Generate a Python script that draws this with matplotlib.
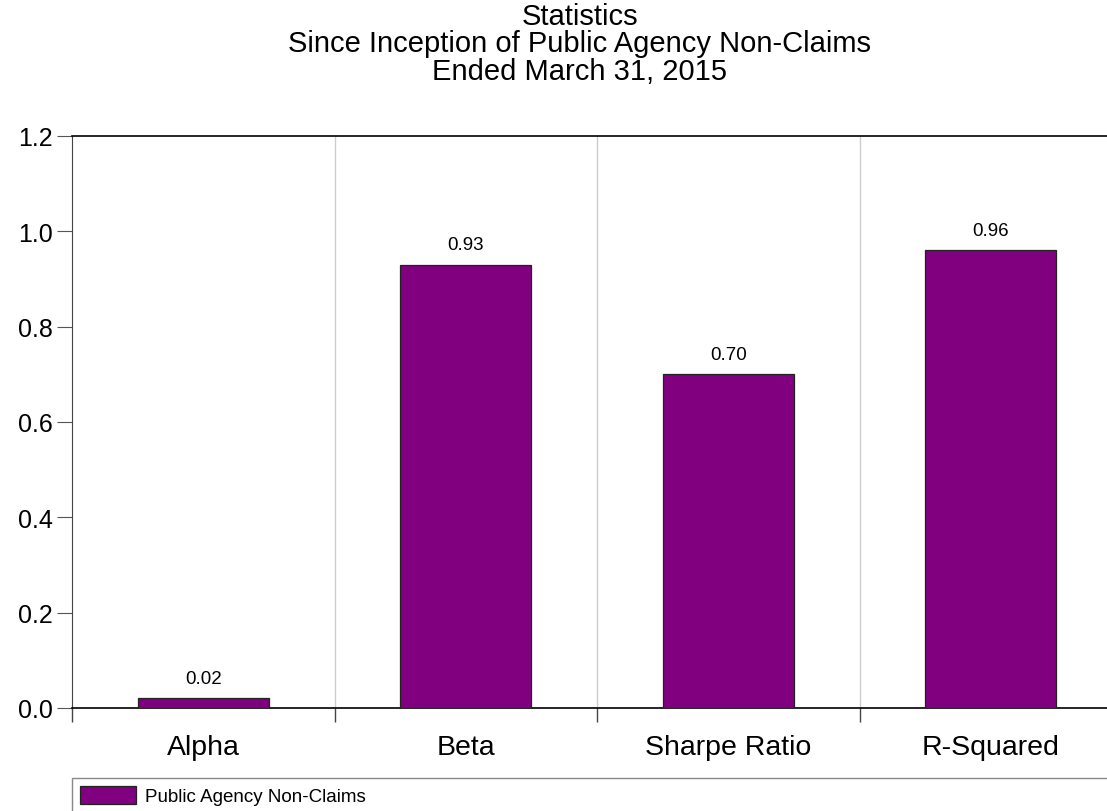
import matplotlib.pyplot as plt
import numpy as np

plt.rcParams['font.family'] = ['Liberation Sans', 'DejaVu Sans']

# data
categorias = ['Alpha', 'Beta', 'Sharpe Ratio', 'R-Squared']
valores = [0.02, 0.93, 0.70, 0.96]
serie = 'Public Agency Non-Claims'
titulo = 'Statistics\nSince Inception of Public Agency Non-Claims\nEnded March 31, 2015'

W, H = 1107, 812
fig = plt.figure(figsize=(W / 100, H / 100), dpi=100)
ax = fig.add_axes([72 / W, (H - 709) / H, 1050 / W, 572 / H])

x = np.arange(len(categorias))
barras = ax.bar(x, valores, width=0.5, color='#800080', edgecolor='#222222',
                linewidth=0.9, label=serie, zorder=3)

for xi, v in zip(x, valores):
    ax.annotate(f'{v:.2f}', (xi, v), xytext=(0, 8.5), textcoords='offset points',
                ha='center', va='bottom', fontsize=13.5)

ax.set_xlim(-0.5, len(categorias) - 0.5)
ax.set_ylim(0, 1.2)
ax.set_yticks(np.arange(0, 1.21, 0.2))
ax.set_yticklabels([f'{t:.1f}' for t in np.arange(0, 1.21, 0.2)], fontsize=18)
ax.tick_params(axis='y', length=11, width=0.8, pad=3, color='#555555')

ax.set_xticks(x)
ax.set_xticklabels(categorias, fontsize=20.5)
ax.tick_params(axis='x', which='major', length=0, pad=19)
ax.set_xticks(np.arange(-0.5, len(categorias), 1.0), minor=True)
ax.tick_params(axis='x', which='minor', length=10, width=1, color='#444444')

# linhas de separacao entre categorias
for b in np.arange(0.5, len(categorias) - 0.5, 1.0):
    ax.axvline(b, color='#cccccc', linewidth=1, zorder=1)

ax.spines['right'].set_visible(False)
ax.spines['top'].set_linewidth(1.2)
ax.spines['bottom'].set_linewidth(1.2)
ax.spines['left'].set_color('#444444')

fig.text(580 / W, 1 - 3 / H, titulo, ha='center', va='top', fontsize=21,
         linespacing=0.97)

leg = ax.legend(loc='upper left', bbox_to_anchor=(72 / W, (H - 779) / H, 1100 / W, 0.0),
                bbox_transform=fig.transFigure, mode='expand', fancybox=False,
                edgecolor='#888888', fontsize=13.5, handlelength=3.0, handleheight=1.15,
                borderaxespad=0, borderpad=0.4, handletextpad=0.5, framealpha=1)
leg.get_frame().set_linewidth(1)

fig.savefig('out.png', dpi=100)
